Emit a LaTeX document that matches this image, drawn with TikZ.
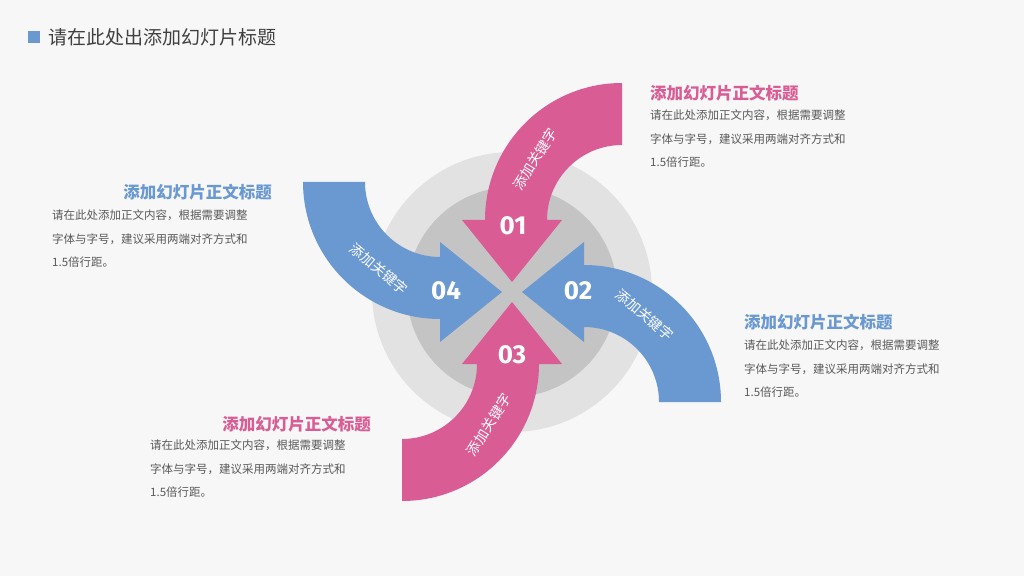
\documentclass[tikz,border=0pt]{standalone}
\usepackage{fontspec}
\setmainfont{Noto Sans CJK SC}
\newfontfamily\numfont{Fira Sans}
\definecolor{pinkarr}{HTML}{D95C94}
\definecolor{bluearr}{HTML}{6A98D0}
\definecolor{ringout}{HTML}{E2E2E2}
\definecolor{ringin}{HTML}{C4C4C4}
\definecolor{bodygray}{HTML}{595959}
\tikzset{
  kw/.style={text=white,font=\fontsize{14}{14}\selectfont,inner sep=0},
  num/.style={text=white,font=\numfont\bfseries\fontsize{26}{26}\selectfont,inner sep=0},
  ttl/.style={font=\bfseries\fontsize{16.5}{16.5}\selectfont,inner sep=0},
  body/.style={text=bodygray,font=\fontsize{11.5}{23.5}\selectfont,align=left,inner sep=0,anchor=north west}
}
\newcommand{\bodytext}{请在此处添加正文内容，根据需要调整\\字体与字号，建议采用两端对齐方式和\\1.5倍行距。}
\newcommand{\arrowpath}[2]{%
  \fill[#1] (0,10) -- (-50,72) -- (-27,72) arc (180:90:137) -- ++(0,-62)
    arc (90:180:75) -- (50,72) -- cycle;
  \node[kw,rotate=#2] at ($(110,72)+(145:106)$) {添加关键字};}
\usetikzlibrary{calc}
\begin{document}
\begin{tikzpicture}[x=1pt,y=1pt]
  \fill[white!97!black] (0,0) rectangle (1024,576);
  \useasboundingbox (0,0) rectangle (1024,576);

  % heading
  \fill[bluearr] (28,533) rectangle (40,545);
  \node[anchor=west,text=black!75,font=\fontsize{19}{19}\selectfont,inner sep=0] (head) at (48,539) {请在此处出添加幻灯片标题};

  % rings
  \coordinate (C) at (512,284);
  \fill[ringout] (C) circle (140);
  \fill[ringin] (C) circle (105);

  % four arrows
  \begin{scope}[shift={(C)}]
    \arrowpath{pinkarr}{58}
  \end{scope}
  \begin{scope}[shift={(C)},rotate=-90]
    \arrowpath{bluearr}{-40}
  \end{scope}
  \begin{scope}[shift={(C)},rotate=180]
    \arrowpath{pinkarr}{58}
  \end{scope}
  \begin{scope}[shift={(C)},rotate=90]
    \arrowpath{bluearr}{-40}
  \end{scope}

  % numbers
  \node[num] (n1) at (513,350) {01};
  \node[num] (n2) at (578,285) {02};
  \node[num] (n3) at (512,221) {03};
  \node[num] (n4) at (446,285) {04};

  % text blocks
  \node[ttl,text=pinkarr,anchor=west] (t1) at (650,483) {添加幻灯片正文标题};
  \node[body] (b1) at (650,466) {\bodytext};
  \node[ttl,text=bluearr,anchor=east] (t2) at (272,384) {添加幻灯片正文标题};
  \node[body] (b2) at (52,366) {\bodytext};
  \node[ttl,text=bluearr,anchor=west] (t3) at (744,254) {添加幻灯片正文标题};
  \node[body] (b3) at (744,236) {\bodytext};
  \node[ttl,text=pinkarr,anchor=east] (t4) at (371,152) {添加幻灯片正文标题};
  \node[body] (b4) at (150,136) {\bodytext};
\end{tikzpicture}
\end{document}
